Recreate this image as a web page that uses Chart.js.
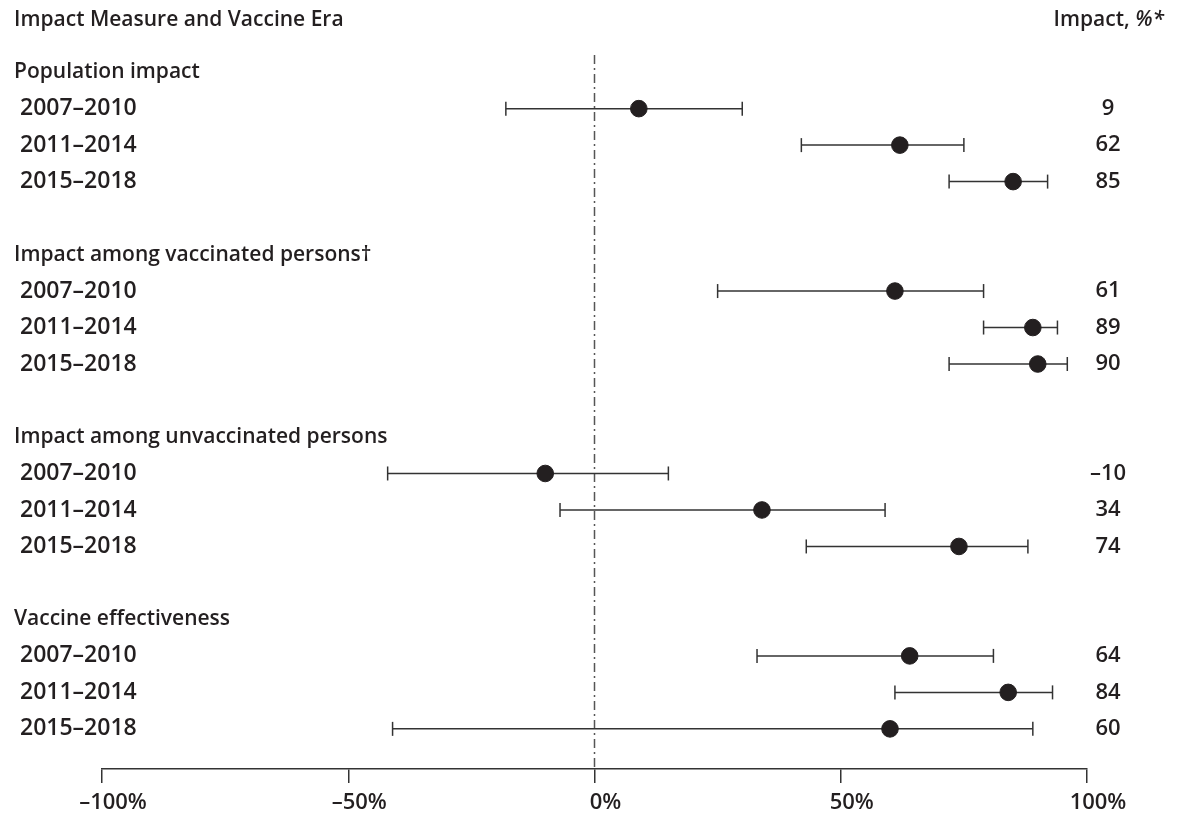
<!DOCTYPE html>
<html>
<head>
<meta charset="utf-8">
<script src="https://cdn.jsdelivr.net/npm/chart.js@4"></script>
<style>
  html, body { margin: 0; padding: 0; background: #fff; }
  #wrap { width: 1177px; height: 817px; }
</style>
</head>
<body>
<div id="wrap"><canvas id="myChart"></canvas></div>
<script>
// data
let groups = ['Population impact', 'Impact among vaccinated persons\u2020', 'Impact among unvaccinated persons', 'Vaccine effectiveness'];
let eras = ['2007\u20132010', '2011\u20132014', '2015\u20132018'];

let pop_est = [9, 62, 85];
let pop_low = [-18, 42, 72];
let pop_high = [30, 75, 92];

let vacc_est = [61, 89, 90];
let vacc_low = [25, 79, 72];
let vacc_high = [79, 94, 96];

let unvacc_est = [-10, 34, 74];
let unvacc_low = [-42, -7, 43];
let unvacc_high = [15, 59, 88];

let ve_est = [64, 84, 60];
let ve_low = [33, 61, -41];
let ve_high = [81, 93, 89];

let x_ticks = [-100, -50, 0, 50, 100];

let estimates = [pop_est, vacc_est, unvacc_est, ve_est];
let lows = [pop_low, vacc_low, unvacc_low, ve_low];
let highs = [pop_high, vacc_high, unvacc_high, ve_high];

const ink = '#231f20';
const lineCol = '#333333';
const yMin = -0.47;
const yMax = 19.1;
const leftW = 88;

// rows: group header, 3 eras, blank
let row_labels = [];
let row_is_era = [];
let row_values = [];
let points = [];
let ci_sets = [];
groups.forEach((g, gi) => {
    row_labels.push(g);
    row_is_era.push(false);
    row_values.push('');
    eras.forEach((e, ei) => {
        let row = row_labels.length;
        row_labels.push(' ' + e);
        row_is_era.push(true);
        let v = estimates[gi][ei];
        row_values.push(v < 0 ? '\u2013' + Math.abs(v) : String(v));
        points.push({x: v, y: row});
        ci_sets.push({
            data: [{x: lows[gi][ei], y: row}, {x: highs[gi][ei], y: row}],
            showLine: true,
            borderColor: lineCol,
            borderWidth: 1.5,
            pointStyle: 'line',
            rotation: 90,
            pointRadius: 7,
            pointBorderWidth: 1.5,
            pointBorderColor: lineCol,
            pointHoverRadius: 7,
            order: 1
        });
    });
    if (gi < groups.length - 1) {
        row_labels.push('');
        row_is_era.push(false);
        row_values.push('');
    }
});
let row_ticks = row_labels.map((l, i) => i);

Chart.defaults.font.family = "'Open Sans', sans-serif";
Chart.defaults.font.weight = 600;
Chart.defaults.color = ink;

const headerPlugin = {
    id: 'headers',
    afterDraw(chart) {
        const ctx = chart.ctx;
        ctx.save();
        ctx.fillStyle = ink;
        ctx.textBaseline = 'middle';
        ctx.textAlign = 'left';
        ctx.font = "600 21px 'Open Sans'";
        ctx.fillText('Impact Measure and Vaccine Era', 14, 20);
        ctx.textAlign = 'right';
        ctx.font = "italic 600 21px 'Open Sans'";
        let w = ctx.measureText('%*').width;
        ctx.fillText('%*', 1164, 20);
        ctx.font = "600 21px 'Open Sans'";
        ctx.fillText('Impact, ', 1164 - w, 20);
        ctx.restore();
    }
};

function myChart() {
    let ctx = document.getElementById('myChart').getContext('2d');
    new Chart(ctx, {
        type: 'scatter',
        data: {
            datasets: [{
                    label: 'Impact',
                    data: points,
                    backgroundColor: ink,
                    borderColor: ink,
                    pointRadius: 8.3,
                    pointHoverRadius: 8.3,
                    order: 0
                },
                ...ci_sets,
                {
                    label: 'zero',
                    data: [{x: 0, y: yMin}, {x: 0, y: yMax}],
                    showLine: true,
                    borderColor: '#555555',
                    borderWidth: 1.5,
                    borderDash: [9, 4, 2, 4],
                    pointRadius: 0,
                    order: 2
                }
            ]
        },
        options: {
            responsive: true,
            maintainAspectRatio: false,
            animation: false,
            layout: {
                padding: {top: 55, left: 14, right: 0, bottom: 0}
            },
            plugins: {
                legend: {display: false},
                tooltip: {enabled: false}
            },
            scales: {
                x: {
                    type: 'linear',
                    min: -100,
                    max: 100,
                    afterBuildTicks: (scale) => { scale.ticks = x_ticks.map(v => ({value: v})); },
                    afterFit: (scale) => { scale.height = 48; },
                    grid: {
                        drawOnChartArea: false,
                        drawTicks: true,
                        tickLength: 14,
                        tickColor: lineCol,
                        lineWidth: 1.5
                    },
                    border: {color: lineCol, width: 1.5},
                    ticks: {
                        padding: 7,
                        labelOffset: 11,
                        maxRotation: 0,
                        font: {size: 22, weight: 600},
                        color: ink,
                        callback: (v) => (v < 0 ? '\u2013' + Math.abs(v) : v) + '%'
                    }
                },
                y: {
                    type: 'linear',
                    position: 'left',
                    reverse: true,
                    min: yMin,
                    max: yMax,
                    afterBuildTicks: (scale) => { scale.ticks = row_ticks.map(v => ({value: v})); },
                    afterFit: (scale) => { scale.width = leftW; },
                    grid: {display: false, drawTicks: false},
                    border: {display: false},
                    ticks: {
                        mirror: true,
                        crossAlign: 'near',
                        padding: -leftW,
                        autoSkip: false,
                        font: (c) => ({size: row_is_era[c.index] ? 23 : 21, weight: 600}),
                        color: ink,
                        callback: (v) => row_labels[v]
                    }
                },
                y2: {
                    type: 'linear',
                    position: 'right',
                    reverse: true,
                    min: yMin,
                    max: yMax,
                    afterBuildTicks: (scale) => { scale.ticks = row_ticks.map(v => ({value: v})); },
                    afterFit: (scale) => { scale.width = 90; },
                    grid: {display: false, drawTicks: false},
                    border: {display: false},
                    ticks: {
                        crossAlign: 'center',
                        padding: 3,
                        autoSkip: false,
                        font: {size: 22, weight: 600},
                        color: ink,
                        callback: (v) => row_values[v]
                    }
                }
            }
        },
        plugins: [headerPlugin]
    });
}
myChart()
</script>
</body>
</html>
